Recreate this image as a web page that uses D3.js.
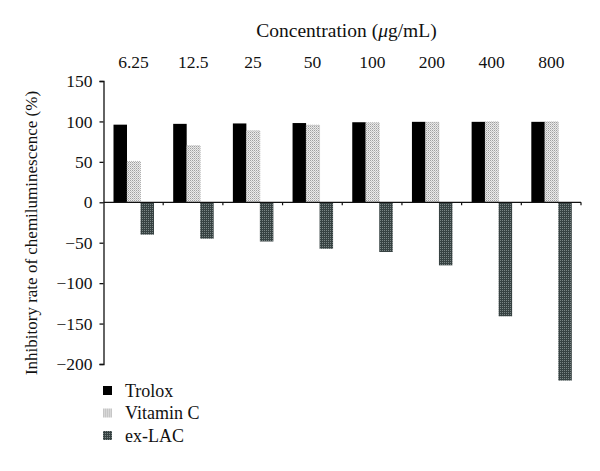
<!doctype html>
<html>
<head>
<meta charset="utf-8">
<script src="https://d3js.org/d3.v7.min.js"></script>
<style>
  body { margin: 0; background: #fff; }
  svg text { font-family: "Liberation Serif", "DejaVu Serif", serif !important; fill: #111; }
</style>
</head>
<body>
<script>

// data
var concentrations = ["6.25", "12.5", "25", "50", "100", "200", "400", "800"];
var seriesNames = ["Trolox", "Vitamin C", "ex-LAC"];
var trolox   = [96, 97, 97.5, 98, 99, 99.5, 99.5, 99.5];
var vitaminC = [50.5, 70, 88.5, 95.5, 98.5, 99, 99.5, 99.5];
var exLAC    = [-40, -45, -48.5, -57.5, -61.5, -78, -141, -220.5];
var yTicks   = [-200, -150, -100, -50, 0, 50, 100, 150];

var seriesValues = [trolox, vitaminC, exLAC];

var width = 600, height = 471;

var svg = d3.select("body").append("svg")
    .attr("width", width)
    .attr("height", height)
    .attr("font-family", "Liberation Serif");

// patterns for the dotted bars
var defs = svg.append("defs");
var pC = defs.append("pattern").attr("id", "patC")
    .attr("width", 2).attr("height", 2).attr("patternUnits", "userSpaceOnUse");
pC.append("rect").attr("width", 2).attr("height", 2).attr("fill", "#ebebeb");
pC.append("rect").attr("width", 1).attr("height", 1).attr("fill", "#a0a0a0");
pC.append("rect").attr("x", 1).attr("y", 1).attr("width", 1).attr("height", 1).attr("fill", "#c4c4c4");

var pL = defs.append("pattern").attr("id", "patL")
    .attr("width", 2).attr("height", 2).attr("patternUnits", "userSpaceOnUse");
pL.append("rect").attr("width", 2).attr("height", 2).attr("fill", "#374242");
pL.append("rect").attr("width", 1).attr("height", 1).attr("fill", "#7a8585");

var fills = ["#000", "url(#patC)", "url(#patL)"];

var x0 = d3.scaleBand().domain(concentrations).range([103.5, 581]).padding(0);
var x1 = d3.scaleBand().domain(seriesNames).range([10, 50.5]).padding(0);
var y = d3.scaleLinear().domain([-200, 150]).range([364, 81]);

// bars
concentrations.forEach(function(c, i) {
    seriesNames.forEach(function(s, j) {
        var v = seriesValues[j][i];
        svg.append("rect")
           .attr("x", x0(c) + x1(s))
           .attr("y", y(Math.max(0, v)))
           .attr("width", x1.bandwidth())
           .attr("height", Math.abs(y(v) - y(0)))
           .attr("fill", fills[j])
           .attr("stroke", j == 1 ? "#999" : "none")
           .attr("stroke-width", 0.6)
           .attr("stroke-dasharray", "1,1");
    });
});

// y axis
var yAxis = svg.append("g")
    .attr("transform", "translate(103.5,0)")
    .call(d3.axisLeft(y).tickValues(yTicks).tickSize(4).tickPadding(7));
yAxis.attr("font-family", null);
yAxis.selectAll("path, line").attr("stroke", "#111").attr("stroke-width", 1.3);
yAxis.selectAll("text")
    .attr("font-size", 17.5).attr("fill", "#111");

// x axis along zero
svg.append("line")
   .attr("x1", x0.range()[0]).attr("x2", x0.range()[1])
   .attr("y1", y(0)).attr("y2", y(0))
   .attr("stroke", "#111").attr("stroke-width", 1.3);
svg.selectAll(".xtick")
   .data(concentrations)
   .enter().append("line")
   .attr("class", "xtick")
   .attr("x1", function(d) { return x0(d) + x0.bandwidth(); })
   .attr("x2", function(d) { return x0(d) + x0.bandwidth(); })
   .attr("y1", y(0)).attr("y2", y(0) + 3)
   .attr("stroke", "#111").attr("stroke-width", 1.2);

// category labels on top
svg.selectAll(".clabel")
   .data(concentrations)
   .enter().append("text")
   .attr("class", "clabel")
   .attr("x", function(d) { return x0(d) + 30; })
   .attr("y", 67.5)
   .attr("text-anchor", "middle")
   .attr("font-size", 17.5)
   .text(function(d) { return d; });

// title
var t = svg.append("text")
   .attr("x", 346.5).attr("y", 36.5)
   .attr("text-anchor", "middle")
   .attr("font-size", 19.5);
t.append("tspan").text("Concentration (");
t.append("tspan").attr("font-style", "italic").text("\u03bc");
t.append("tspan").text("g/mL)");

// y title
svg.append("text")
   .attr("transform", "translate(37,233) rotate(-90)")
   .attr("text-anchor", "middle")
   .attr("font-size", 17)
   .text("Inhibitory rate of chemiluminescence (%)");

// legend
var legend = svg.selectAll(".legend")
   .data(seriesNames)
   .enter().append("g")
   .attr("class", "legend")
   .attr("transform", function(d, i) { return "translate(103," + (386 + i * 22.5) + ")"; });
legend.append("rect")
   .attr("width", 9).attr("height", 9)
   .attr("fill", function(d, i) { return fills[i]; });
legend.append("text")
   .attr("x", 22).attr("y", 10.5)
   .attr("font-size", 18)
   .text(function(d) { return d; });

</script>
</body>
</html>
